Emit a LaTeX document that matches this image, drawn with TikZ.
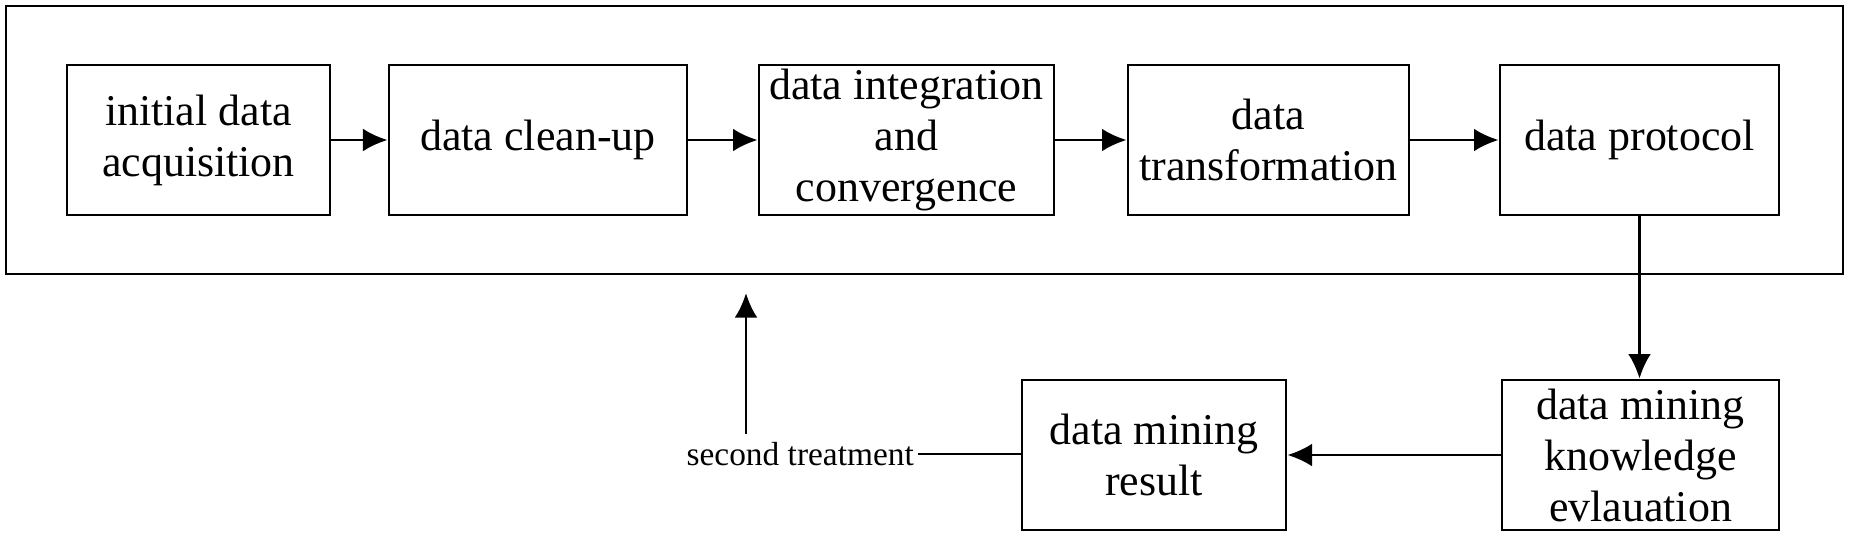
\documentclass[tikz,border=0pt]{standalone}
\usepackage{fontspec}
\setmainfont{Liberation Serif}
\usetikzlibrary{arrows.meta}
\tikzset{
  stage/.style={draw, line width=0.8pt, minimum height=1.5cm, inner sep=0pt, align=center,
    font=\fontsize{12.5}{14.5}\selectfont},
  flow/.style={-{Latex[length=7pt,width=6.5pt]}, line width=0.8pt}
}
\begin{document}
\begin{tikzpicture}
\useasboundingbox (0,0) rectangle (18.5,-5.39);

% outer frame round the preprocessing steps
\draw[line width=0.8pt] (0.06,-0.06) rectangle (18.43,-2.74);

\foreach \x/\w/\n/\t in {1.985/2.63/acq/{initial data\\acquisition},
    5.38/2.98/clean/{data clean-up},
    9.065/2.95/integ/{data integration\\and\\convergence},
    12.685/2.81/trans/{data\\transformation},
    16.395/2.79/proto/{data protocol}}{
    \node[stage, minimum width=\w cm] (\n) at (\x,-1.40) {\t};
}

\node[stage, minimum width=2.77cm] (eval) at (16.405,-4.55) {data mining\\knowledge\\evlauation};
\node[stage, minimum width=2.64cm] (result) at (11.54,-4.55) {data mining\\result};
\node[font=\fontsize{9.5}{11}\selectfont, inner sep=1pt, anchor=east] (treat) at (9.18,-4.54) {second treatment};
\coordinate (back) at (7.46,-4.34);
\coordinate (top) at (7.46,-2.93);

% Row arrows
\draw[flow] (acq) -- (clean);
\draw[flow] (clean) -- (integ);
\draw[flow] (integ) -- (trans);
\draw[flow] (trans) -- (proto);

% Mining
\draw[flow] (proto.south) -- (eval.north -| proto.south);
\draw[flow] (eval.west |- result) -- (result.east);

% Second treatment
\draw[line width=0.8pt] (result.west |- treat) -- (treat.east);
\draw[flow] (back) -- (top);

\end{tikzpicture}
\end{document}
